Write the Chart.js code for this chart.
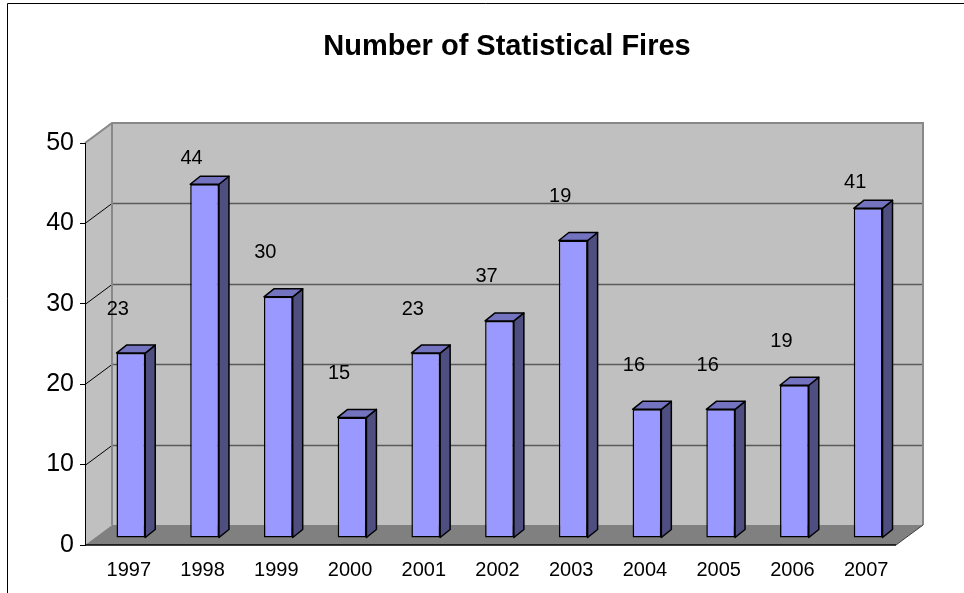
<!DOCTYPE html>
<html>
<head>
<meta charset="utf-8">
<title>Number of Statistical Fires</title>
<script src="https://cdn.jsdelivr.net/npm/chart.js@4.4.1/dist/chart.umd.min.js"></script>
<style>
  html, body { margin: 0; padding: 0; background: #fff; }
  canvas { display: block; }
</style>
</head>
<body>
<canvas id="fireChart" width="964" height="593"></canvas>
<script>
// chart data
const chartTitle = 'Number of Statistical Fires';
const years = ['1997', '1998', '1999', '2000', '2001', '2002', '2003', '2004', '2005', '2006', '2007'];
const fireCounts = [23, 44, 30, 15, 23, 27, 37, 16, 16, 19, 41];
// the text shown above each column (as printed on the original)
const labelTexts = ['23', '44', '30', '15', '23', '37', '19', '16', '16', '19', '41'];
const yTicks = [0, 10, 20, 30, 40, 50];

const FONT = "'Liberation Sans', Arial, sans-serif";

// fake 3d depth, in pixels
const WALL_DX = 27, WALL_DY = 20;   // back wall offset from the front plane
const SHIFT_X = 9, SHIFT_Y = 7;     // columns sit a bit inside the floor
const BAR_DX = 10, BAR_DY = 8;      // column depth

const excel3d = {
  id: 'excel3d',
  beforeDraw(chart) {
    const { ctx, chartArea: area, scales } = chart;
    const y = scales.y;
    const top = y.getPixelForValue(yTicks[yTicks.length - 1]);
    const bottom = y.getPixelForValue(0);

    ctx.save();
    ctx.fillStyle = '#fff';
    ctx.fillRect(0, 0, chart.width, chart.height);

    // outer frame
    ctx.strokeStyle = '#000';
    ctx.lineWidth = 1;
    ctx.beginPath();
    ctx.moveTo(7.5, chart.height);
    ctx.lineTo(7.5, 3.5);
    ctx.lineTo(chart.width, 3.5);
    ctx.stroke();

    // title, centred over the whole 3d box (walls included)
    ctx.fillStyle = '#000';
    ctx.font = 'bold 29px ' + FONT;
    ctx.textAlign = 'center';
    ctx.textBaseline = 'middle';
    ctx.fillText(chartTitle, (area.left + area.right + WALL_DX) / 2 + 3, 47);

    // back wall
    ctx.fillStyle = '#c0c0c0';
    ctx.fillRect(area.left + WALL_DX, top - WALL_DY, area.right - area.left, bottom - top);

    // side wall
    ctx.beginPath();
    ctx.moveTo(area.left, top);
    ctx.lineTo(area.left + WALL_DX, top - WALL_DY);
    ctx.lineTo(area.left + WALL_DX, bottom - WALL_DY);
    ctx.lineTo(area.left, bottom);
    ctx.closePath();
    ctx.fill();

    // floor
    ctx.fillStyle = '#808080';
    ctx.beginPath();
    ctx.moveTo(area.left, bottom);
    ctx.lineTo(area.left + WALL_DX, bottom - WALL_DY);
    ctx.lineTo(area.right + WALL_DX, bottom - WALL_DY);
    ctx.lineTo(area.right, bottom);
    ctx.closePath();
    ctx.fill();

    // gridlines on the back wall + diagonals on the side wall
    yTicks.slice(1, -1).forEach(v => {
      const py = Math.round(y.getPixelForValue(v)) + 0.5;
      ctx.strokeStyle = '#5a5a5a';
      ctx.lineWidth = 1.3;
      ctx.beginPath();
      ctx.moveTo(area.left + WALL_DX, py - WALL_DY);
      ctx.lineTo(area.right + WALL_DX, py - WALL_DY);
      ctx.stroke();
      ctx.strokeStyle = '#000';
      ctx.lineWidth = 1;
      ctx.beginPath();
      ctx.moveTo(area.left, py);
      ctx.lineTo(area.left + WALL_DX, py - WALL_DY);
      ctx.stroke();
    });

    // wall outlines
    ctx.strokeStyle = '#888';
    ctx.lineWidth = 2;
    ctx.beginPath();
    ctx.moveTo(area.left, top);
    ctx.lineTo(area.left + WALL_DX, top - WALL_DY);
    ctx.lineTo(area.right + WALL_DX, top - WALL_DY);
    ctx.lineTo(area.right + WALL_DX, bottom - WALL_DY);
    ctx.moveTo(area.left + WALL_DX, top - WALL_DY);
    ctx.lineTo(area.left + WALL_DX, bottom - WALL_DY);
    ctx.stroke();

    // floor front and right edge
    ctx.strokeStyle = '#000';
    ctx.lineWidth = 1.5;
    ctx.beginPath();
    ctx.moveTo(area.left, bottom);
    ctx.lineTo(area.right, bottom);
    ctx.stroke();
    ctx.strokeStyle = '#404040';
    ctx.lineWidth = 1;
    ctx.beginPath();
    ctx.moveTo(area.right, bottom);
    ctx.lineTo(area.right + WALL_DX, bottom - WALL_DY);
    ctx.stroke();
    ctx.restore();
  },
  beforeDatasetsDraw(chart) {
    chart.ctx.save();
    chart.ctx.translate(SHIFT_X, -SHIFT_Y);
  },
  afterDatasetsDraw(chart) {
    const ctx = chart.ctx;
    const bars = chart.getDatasetMeta(0).data;

    // side and top faces of each column
    ctx.lineWidth = 1.5;
    ctx.strokeStyle = '#000';
    ctx.lineJoin = 'round';
    bars.forEach(bar => {
      const { x, y, base, width } = bar.getProps(['x', 'y', 'base', 'width'], true);
      const l = x - width / 2, r = x + width / 2;

      ctx.fillStyle = '#4e4e80';
      ctx.beginPath();
      ctx.moveTo(r, y);
      ctx.lineTo(r + BAR_DX, y - BAR_DY);
      ctx.lineTo(r + BAR_DX, base - BAR_DY);
      ctx.lineTo(r, base);
      ctx.closePath();
      ctx.fill();
      ctx.stroke();

      ctx.fillStyle = '#7373c0';
      ctx.beginPath();
      ctx.moveTo(l, y);
      ctx.lineTo(l + BAR_DX, y - BAR_DY);
      ctx.lineTo(r + BAR_DX, y - BAR_DY);
      ctx.lineTo(r, y);
      ctx.closePath();
      ctx.fill();
      ctx.stroke();
    });
    ctx.restore();

    // value labels, floating above and a little left of each column,
    // kept below the top of the wall but never on the column itself
    const minY = chart.chartArea.top + 40;
    ctx.save();
    ctx.fillStyle = '#000';
    ctx.font = '20px ' + FONT;
    ctx.textAlign = 'center';
    ctx.textBaseline = 'middle';
    bars.forEach((bar, i) => {
      const { x, y } = bar.getProps(['x', 'y'], true);
      const barTop = y - SHIFT_Y;
      const ly = Math.min(Math.max(barTop - 44, minY), barTop - 26);
      ctx.fillText(labelTexts[i], x + SHIFT_X - 13, ly);
    });
    ctx.restore();
  }
};

const ctx = document.getElementById('fireChart').getContext('2d');

const fireChart = new Chart(ctx, {
  type: 'bar',
  data: {
    labels: years,
    datasets: [{
      label: chartTitle,
      data: fireCounts,
      backgroundColor: '#9999ff',
      borderColor: '#000',
      borderWidth: 1.5,
      borderSkipped: false,
      barPercentage: 0.39,
      categoryPercentage: 1,
      clip: false
    }]
  },
  options: {
    responsive: false,
    animation: false,
    layout: { padding: { left: 0, right: 68, top: 143, bottom: 0 } },
    plugins: {
      legend: { display: false },
      tooltip: { enabled: false },
      title: { display: false }
    },
    scales: {
      x: {
        grid: { display: false },
        border: { display: false },
        ticks: {
          color: '#000',
          font: { family: FONT, size: 20 },
          padding: 5,
          labelOffset: 7,
          maxRotation: 0,
          autoSkip: false
        },
        afterFit(scale) { scale.height = 48; }
      },
      y: {
        min: 0,
        max: 50,
        grid: { drawOnChartArea: false, drawTicks: true, tickLength: 5, color: '#000' },
        border: { display: true, color: '#000', width: 1 },
        ticks: {
          stepSize: 10,
          color: '#000',
          padding: 6,
          font: { family: FONT, size: 25 }
        },
        afterFit(scale) { scale.width = 85; }
      }
    }
  },
  plugins: [excel3d]
});
</script>
</body>
</html>
